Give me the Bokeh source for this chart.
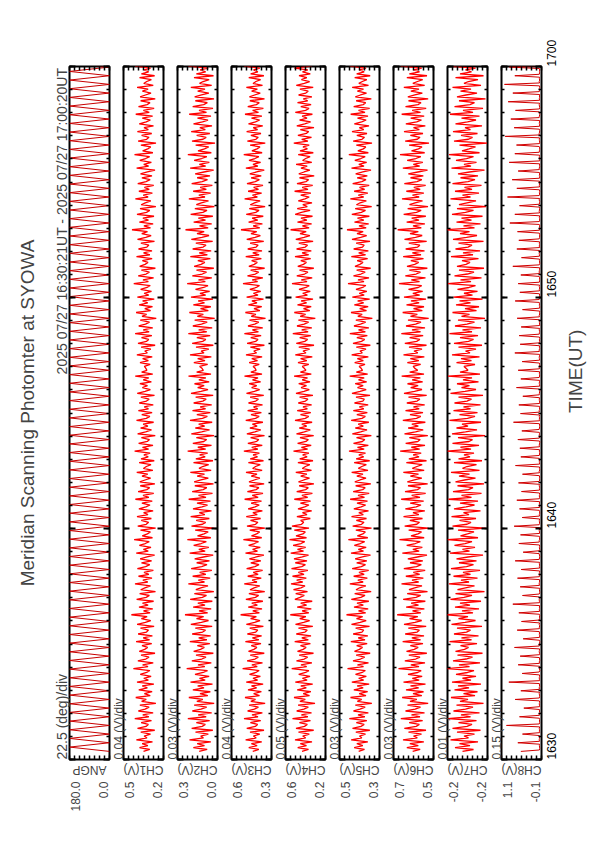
import math
import numpy as np
from bokeh.plotting import figure
from bokeh.models import Range1d, LinearAxis, FixedTicker, CustomJSTickFormatter, Title
from bokeh.layouts import row
from bokeh.embed import file_html
from bokeh.resources import INLINE

# ---------------- data ----------------
title_text = "Meridian Scanning Photomter at SYOWA"
date_text = "2025 07/27 16:30:21UT - 2025 07/27 17:00:20UT"
xlabel_text = "TIME(UT)"

panel_names = ["ANGP", "CH1(V)", "CH2(V)", "CH3(V)", "CH4(V)", "CH5(V)", "CH6(V)", "CH7(V)", "CH8(V)"]
div_labels = ["22.5 (deg)/div", "0.04 (V)/div", "0.03 (V)/div", "0.04 (V)/div", "0.05 (V)/div",
              "0.03 (V)/div", "0.03 (V)/div", "0.01 (V)/div", "0.15 (V)/div"]
axis_max = [180.0, 0.50, 0.26, 0.60, 0.60, 0.50, 0.72, -0.16, 1.10]
axis_per_div = [22.5, 0.04, 0.03, 0.04, 0.05, 0.03, 0.03, 0.01, 0.15]
max_labels = ["180.0", "0.5", "0.3", "0.6", "0.6", "0.5", "0.7", "-0.2", "1.1"]
min_labels = ["0.0", "0.2", "0.0", "0.3", "0.2", "0.3", "0.5", "-0.2", "-0.1"]

time_ticks = [30, 40, 50, 60]              # minutes after 16:00 UT
time_tick_labels = ["1630", "1640", "1650", "1700"]
time_minor_ticks = list(range(30, 61))
t_start = 30.35                            # 16:30:21 UT
ang_step = 0.1875                          # min between scan turning points
ch_step = 30.0 / 360                       # min between samples (CH1-CH7)
ch8_step = 30.0 / 480                      # min between samples (CH8)

# scan angle turning points (deg)
ang_v = [0, 180, 0, 180, 0, 180, 0, 180, 0, 180, 0, 180, 0, 180, 0, 180, 0, 180, 0, 180,
         0, 180, 0, 180, 0, 180, 0, 180, 0, 180, 0, 180, 0, 180, 0, 180, 0, 180, 0, 180,
         0, 180, 0, 180, 0, 180, 0, 180, 0, 180, 0, 180, 0, 180, 0, 180, 0, 180, 0, 180,
         0, 180, 0, 180, 0, 180, 0, 180, 0, 180, 0, 180, 0, 180, 0, 180, 0, 180, 0, 180,
         0, 180, 0, 180, 0, 180, 0, 180, 0, 180, 0, 180, 0, 180, 0, 180, 0, 180, 0, 180,
         0, 180, 0, 180, 0, 180, 0, 180, 0, 180, 0, 180, 0, 180, 0, 180, 0, 180, 0, 180,
         0, 180, 0, 180, 0, 180, 0, 180, 0, 180, 0, 180, 0, 180, 0, 180, 0, 180, 0, 180,
         0, 180, 0, 180, 0, 180, 0, 180, 0, 180, 0, 180, 0, 180, 0, 180, 0, 180, 0, 180, 0]

# channel values in mV
ch1_mv = [340, 290, 372, 305, 351, 268, 397, 312, 335, 284, 362, 250, 388, 320, 301, 359, 276, 410, 298, 346,
          263, 381, 327, 295, 369, 241, 355, 318, 402, 286, 333, 271, 378, 309, 350, 257, 392, 301, 338, 279,
          366, 315, 289, 421, 304, 347, 262, 385, 322, 296, 360, 248, 374, 331, 307, 352, 274, 399, 292, 343,
          269, 383, 316, 300, 364, 255, 391, 325, 282, 357, 311, 437, 287, 340, 266, 376, 303, 348, 259, 395,
          319, 293, 371, 244, 362, 329, 284, 408, 306, 345, 272, 380, 297, 336, 261, 389, 323, 290, 356, 275,
          367, 312, 251, 398, 302, 341, 280, 373, 326, 294, 415, 268, 350, 309, 285, 364, 243, 386, 318, 299,
          358, 277, 392, 304, 339, 263, 377, 321, 288, 353, 270, 405, 297, 344, 258, 383, 314, 291, 366, 249,
          370, 328, 283, 352, 306, 394, 265, 341, 317, 280, 375, 254, 360, 302, 337, 287, 411, 299, 348, 264,
          379, 310, 292, 357, 246, 387, 323, 276, 363, 305, 343, 259, 396, 318, 289, 354, 271, 381, 300, 334,
          262, 374, 316, 295, 361, 252, 390, 327, 285, 349, 308, 369, 277, 342, 298, 406, 266, 355, 313, 321,
          333, 286, 368, 301, 347, 270, 393, 309, 330, 281, 359, 247, 384, 317, 298, 356, 273, 407, 295, 342,
          266, 378, 324, 292, 366, 238, 352, 315, 399, 283, 330, 268, 375, 306, 347, 254, 389, 298, 335, 276,
          363, 312, 286, 418, 301, 344, 259, 382, 319, 293, 357, 245, 371, 328, 304, 349, 271, 396, 289, 340,
          272, 380, 313, 297, 361, 252, 388, 322, 279, 354, 308, 432, 284, 337, 263, 373, 300, 345, 256, 392,
          316, 290, 368, 241, 359, 326, 281, 405, 303, 342, 269, 377, 294, 333, 258, 386, 320, 287, 353, 272,
          364, 309, 248, 395, 299, 338, 277, 370, 323, 291, 412, 265, 347, 306, 282, 361, 240, 383, 315, 296,
          355, 274, 389, 301, 336, 260, 374, 318, 285, 350, 267, 402, 294, 341, 255, 380, 311, 288, 363, 246,
          367, 325, 280, 349, 303, 391, 262, 338, 314, 277, 372, 251, 357, 299, 334, 284, 408, 296, 345, 261]
ch2_mv = [130, 82, 165, 98, 142, 60, 188, 104, 121, 75, 152, 48, 175, 112, 93, 147, 67, 198, 88, 136,
          55, 171, 119, 85, 160, 40, 144, 108, 192, 78, 125, 63, 168, 101, 139, 50, 182, 94, 128, 70,
          155, 106, 80, 205, 96, 137, 57, 174, 114, 89, 149, 45, 163, 122, 99, 141, 66, 186, 84, 133,
          61, 172, 109, 92, 153, 52, 180, 117, 74, 146, 103, 215, 79, 131, 58, 166, 95, 138, 51, 184,
          111, 86, 159, 42, 150, 120, 77, 195, 98, 135, 64, 169, 90, 127, 54, 178, 115, 83, 145, 68,
          157, 104, 46, 187, 94, 132, 72, 163, 118, 87, 201, 60, 140, 101, 76, 154, 38, 176, 110, 91,
          148, 69, 181, 96, 129, 56, 167, 113, 80, 143, 62, 193, 89, 134, 50, 172, 106, 84, 156, 44,
          160, 119, 75, 142, 98, 183, 58, 131, 109, 73, 164, 47, 150, 94, 127, 79, 199, 91, 138, 56,
          168, 102, 85, 147, 41, 177, 115, 68, 153, 97, 133, 52, 185, 110, 81, 144, 63, 170, 92, 124,
          55, 163, 108, 88, 151, 46, 179, 119, 77, 139, 100, 158, 70, 132, 90, 194, 59, 145, 105, 113,
          127, 79, 162, 95, 139, 57, 185, 101, 118, 72, 149, 45, 172, 109, 90, 144, 64, 195, 85, 133,
          52, 168, 116, 82, 157, 37, 141, 105, 189, 75, 122, 60, 165, 98, 136, 47, 179, 91, 125, 67,
          152, 103, 77, 202, 93, 134, 54, 171, 111, 86, 146, 42, 160, 119, 96, 138, 63, 183, 81, 130,
          58, 169, 106, 89, 150, 49, 177, 114, 71, 143, 100, 212, 76, 128, 55, 163, 92, 135, 48, 181,
          108, 83, 156, 39, 147, 117, 74, 192, 95, 132, 61, 166, 87, 124, 51, 175, 112, 80, 142, 65,
          154, 101, 43, 184, 91, 129, 69, 160, 115, 84, 198, 57, 137, 98, 73, 151, 35, 173, 107, 88,
          145, 66, 178, 93, 126, 53, 164, 110, 77, 140, 59, 190, 86, 131, 47, 169, 103, 81, 153, 41,
          157, 116, 72, 139, 95, 180, 55, 128, 106, 70, 161, 44, 147, 91, 124, 76, 196, 88, 135, 53]
ch3_mv = [430, 381, 462, 395, 441, 358, 487, 402, 425, 374, 452, 340, 478, 410, 391, 449, 366, 500, 388, 436,
          353, 471, 417, 385, 459, 331, 445, 408, 492, 376, 423, 361, 468, 399, 440, 347, 482, 391, 428, 369,
          456, 405, 379, 511, 394, 437, 352, 475, 412, 386, 450, 338, 464, 421, 397, 442, 364, 489, 382, 433,
          359, 473, 406, 390, 454, 345, 481, 415, 372, 447, 401, 527, 377, 430, 356, 466, 393, 438, 349, 485,
          409, 383, 461, 334, 452, 419, 374, 498, 396, 435, 362, 470, 387, 426, 351, 479, 413, 380, 446, 365,
          457, 402, 341, 488, 392, 431, 370, 463, 416, 384, 505, 358, 440, 399, 375, 454, 333, 476, 408, 389,
          448, 367, 482, 394, 429, 353, 467, 411, 378, 443, 360, 495, 387, 434, 348, 473, 404, 381, 456, 339,
          460, 418, 373, 442, 396, 484, 355, 431, 407, 370, 465, 344, 450, 392, 427, 377, 501, 389, 438, 354,
          469, 400, 382, 447, 336, 477, 413, 366, 453, 395, 433, 349, 486, 408, 379, 444, 361, 471, 390, 424,
          352, 464, 406, 385, 451, 342, 480, 417, 375, 439, 398, 459, 367, 432, 388, 496, 356, 445, 403, 411,
          427, 378, 459, 392, 438, 355, 484, 399, 422, 371, 449, 337, 475, 407, 388, 446, 363, 497, 385, 433,
          350, 468, 414, 382, 456, 328, 442, 405, 489, 373, 420, 358, 465, 396, 437, 344, 479, 388, 425, 366,
          453, 402, 376, 508, 391, 434, 349, 472, 409, 383, 447, 335, 461, 418, 394, 439, 361, 486, 379, 430,
          356, 470, 403, 387, 451, 342, 478, 412, 369, 444, 398, 524, 374, 427, 353, 463, 390, 435, 346, 482,
          406, 380, 458, 331, 449, 416, 371, 495, 393, 432, 359, 467, 384, 423, 348, 476, 410, 377, 443, 362,
          454, 399, 338, 485, 389, 428, 367, 460, 413, 381, 502, 355, 437, 396, 372, 451, 330, 473, 405, 386,
          445, 364, 479, 391, 426, 350, 464, 408, 375, 440, 357, 492, 384, 431, 345, 470, 401, 378, 453, 336,
          457, 415, 370, 439, 393, 481, 352, 428, 404, 367, 462, 341, 447, 389, 424, 374, 498, 386, 435, 351]
ch4_mv = [435, 370, 478, 390, 452, 335, 505, 398, 428, 362, 470, 318, 495, 410, 382, 461, 350, 530, 377, 441,
          340, 488, 416, 372, 474, 305, 456, 402, 515, 360, 423, 346, 483, 392, 447, 328, 502, 384, 431, 355,
          468, 399, 366, 538, 388, 445, 336, 490, 412, 379, 463, 320, 480, 424, 394, 450, 351, 508, 372, 437,
          345, 492, 405, 383, 470, 327, 500, 418, 359, 458, 396, 552, 367, 434, 342, 483, 389, 448, 333, 506,
          455, 412, 498, 380, 520, 446, 405, 545, 428, 488, 392, 530, 415, 472, 376, 540, 438, 401, 502, 385,
          515, 432, 370, 548, 420, 480, 398, 524, 445, 408, 560, 390, 495, 426, 402, 512, 365, 535, 440, 418,
          448, 352, 486, 385, 430, 338, 475, 408, 366, 451, 349, 512, 378, 436, 331, 488, 399, 372, 463, 316,
          470, 417, 360, 448, 386, 497, 340, 432, 401, 357, 476, 325, 458, 384, 428, 366, 520, 379, 441, 343,
          479, 395, 371, 455, 318, 490, 411, 352, 462, 388, 437, 334, 505, 402, 368, 450, 347, 483, 381, 425,
          339, 472, 400, 376, 459, 326, 495, 415, 362, 444, 390, 468, 355, 433, 380, 514, 342, 451, 396, 412,
          432, 367, 475, 387, 449, 332, 502, 395, 425, 359, 467, 315, 492, 407, 379, 458, 347, 527, 374, 438,
          337, 485, 413, 369, 471, 302, 453, 399, 512, 357, 420, 343, 480, 389, 444, 325, 499, 381, 428, 352,
          465, 396, 363, 535, 385, 442, 333, 487, 409, 376, 460, 317, 477, 421, 391, 447, 348, 505, 369, 434,
          342, 489, 402, 380, 467, 324, 497, 415, 356, 455, 393, 549, 364, 431, 339, 480, 386, 445, 330, 503,
          441, 354, 483, 382, 427, 335, 472, 405, 363, 448, 346, 509, 375, 433, 328, 485, 396, 369, 460, 313,
          467, 414, 357, 445, 383, 494, 337, 429, 398, 354, 473, 322, 455, 381, 425, 363, 517, 376, 438, 340,
          476, 392, 368, 452, 315, 487, 408, 349, 459, 385, 434, 331, 502, 399, 365, 447, 344, 480, 378, 422,
          336, 469, 397, 373, 456, 323, 492, 412, 359, 441, 387, 465, 352, 430, 377, 511, 339, 448, 393, 409]
ch5_mv = [385, 350, 412, 360, 396, 330, 430, 366, 380, 344, 402, 318, 422, 371, 352, 399, 336, 441, 348, 389,
          327, 416, 377, 346, 405, 306, 393, 367, 434, 341, 382, 331, 414, 358, 394, 322, 426, 355, 385, 339,
          404, 364, 345, 452, 356, 392, 326, 419, 374, 349, 400, 316, 410, 381, 362, 397, 334, 432, 347, 388,
          330, 418, 365, 355, 403, 320, 428, 376, 340, 398, 361, 458, 343, 386, 328, 413, 357, 395, 324, 429,
          372, 347, 409, 310, 401, 379, 342, 438, 358, 390, 333, 415, 352, 383, 325, 424, 369, 344, 397, 336,
          406, 363, 314, 431, 356, 387, 340, 411, 375, 349, 447, 330, 393, 360, 345, 402, 308, 421, 368, 353,
          399, 338, 428, 357, 384, 326, 414, 370, 343, 395, 332, 436, 350, 389, 322, 418, 361, 346, 403, 312,
          408, 377, 341, 396, 359, 427, 329, 387, 366, 339, 412, 319, 400, 355, 384, 344, 443, 352, 392, 327,
          416, 363, 348, 398, 309, 423, 373, 335, 405, 357, 388, 324, 430, 365, 345, 396, 333, 417, 354, 381,
          328, 410, 360, 351, 401, 317, 425, 376, 340, 392, 358, 406, 337, 386, 352, 439, 331, 399, 362, 370,
          382, 347, 409, 357, 393, 327, 427, 363, 377, 341, 399, 315, 419, 368, 349, 396, 333, 438, 345, 386,
          324, 413, 374, 343, 402, 303, 390, 364, 431, 338, 379, 328, 411, 355, 391, 319, 423, 352, 382, 336,
          401, 361, 342, 449, 353, 389, 323, 416, 371, 346, 397, 313, 407, 378, 359, 394, 331, 429, 344, 385,
          327, 415, 362, 352, 400, 317, 425, 373, 337, 395, 358, 455, 340, 383, 325, 410, 354, 392, 321, 426,
          369, 344, 406, 307, 398, 376, 339, 435, 355, 387, 330, 412, 349, 380, 322, 421, 366, 341, 394, 333,
          403, 360, 311, 428, 353, 384, 337, 408, 372, 346, 444, 327, 390, 357, 342, 399, 305, 418, 365, 350,
          396, 335, 425, 354, 381, 323, 411, 367, 340, 392, 329, 433, 347, 386, 319, 415, 358, 343, 400, 309,
          405, 374, 338, 393, 356, 424, 326, 384, 363, 336, 409, 316, 397, 352, 381, 341, 440, 349, 389, 324]
ch6_mv = [605, 560, 640, 571, 622, 538, 663, 577, 600, 552, 630, 525, 655, 584, 565, 626, 545, 676, 561, 612,
          534, 648, 590, 558, 636, 512, 621, 580, 668, 550, 603, 540, 645, 569, 618, 528, 660, 566, 607, 548,
          633, 575, 554, 690, 567, 616, 531, 652, 587, 561, 628, 520, 642, 596, 572, 619, 543, 665, 558, 610,
          537, 650, 578, 565, 631, 524, 657, 591, 551, 624, 574, 698, 556, 606, 535, 644, 570, 614, 529, 662,
          585, 557, 638, 516, 627, 593, 549, 672, 569, 609, 541, 646, 563, 601, 530, 658, 582, 553, 621, 544,
          634, 577, 519, 667, 566, 604, 547, 641, 589, 559, 684, 536, 615, 573, 552, 629, 510, 653, 580, 564,
          622, 546, 660, 568, 603, 532, 649, 584, 555, 620, 539, 674, 561, 611, 527, 651, 576, 558, 633, 515,
          637, 595, 550, 619, 570, 661, 536, 607, 579, 548, 643, 522, 628, 567, 602, 554, 680, 563, 613, 531,
          647, 574, 560, 625, 514, 654, 588, 542, 632, 571, 610, 529, 664, 582, 556, 621, 543, 648, 566, 600,
          533, 640, 578, 562, 630, 521, 657, 594, 549, 617, 572, 636, 545, 608, 559, 671, 537, 623, 575, 592,
          602, 557, 637, 568, 619, 535, 660, 574, 597, 549, 627, 522, 652, 581, 562, 623, 542, 673, 558, 609,
          531, 645, 587, 555, 633, 509, 618, 577, 665, 547, 600, 537, 642, 566, 615, 525, 657, 563, 604, 545,
          630, 572, 551, 687, 564, 613, 528, 649, 584, 558, 625, 517, 639, 593, 569, 616, 540, 662, 555, 607,
          534, 647, 575, 562, 628, 521, 654, 588, 548, 621, 571, 695, 553, 603, 532, 641, 567, 611, 526, 659,
          582, 554, 635, 513, 624, 590, 546, 669, 566, 606, 538, 643, 560, 598, 527, 655, 579, 550, 618, 541,
          631, 574, 516, 664, 563, 601, 544, 638, 586, 556, 681, 533, 612, 570, 549, 626, 507, 650, 577, 561,
          619, 543, 657, 565, 600, 529, 646, 581, 552, 617, 536, 671, 558, 608, 524, 648, 573, 555, 630, 512,
          634, 592, 547, 616, 567, 658, 533, 604, 576, 545, 640, 519, 625, 564, 599, 551, 677, 560, 610, 528]
ch7_mv = [-190, -212, -175, -205, -184, -221, -166, -202, -193, -214, -179, -226, -170, -199, -209, -182, -218, -161, -206, -187,
          -224, -172, -196, -211, -178, -232, -185, -201, -167, -215, -192, -220, -174, -203, -181, -227, -169, -207, -190, -217,
          -177, -200, -213, -158, -204, -183, -225, -171, -197, -210, -180, -230, -176, -194, -202, -186, -219, -164, -208, -188,
          -222, -173, -198, -206, -179, -229, -168, -195, -216, -182, -201, -155, -211, -189, -223, -175, -205, -185, -227, -166,
          -193, -209, -176, -234, -180, -196, -214, -163, -203, -187, -220, -172, -206, -191, -225, -167, -198, -212, -183, -218,
          -178, -201, -231, -165, -204, -190, -215, -174, -195, -209, -160, -221, -186, -200, -213, -181, -236, -170, -199, -207,
          -184, -217, -168, -203, -192, -226, -173, -197, -214, -185, -221, -162, -208, -188, -228, -171, -202, -211, -180, -233,
          -176, -194, -216, -183, -204, -167, -224, -190, -199, -218, -173, -229, -182, -205, -193, -213, -157, -207, -186, -223,
          -170, -203, -210, -181, -235, -169, -196, -219, -178, -201, -189, -227, -164, -200, -215, -184, -220, -172, -206, -192,
          -226, -174, -199, -208, -182, -231, -166, -195, -217, -188, -204, -179, -222, -191, -209, -161, -225, -185, -201, -197,
          -193, -215, -178, -208, -187, -224, -169, -205, -196, -217, -182, -229, -173, -202, -212, -185, -221, -164, -209, -190,
          -227, -175, -199, -214, -181, -235, -188, -204, -170, -218, -195, -223, -177, -206, -184, -230, -172, -210, -193, -220,
          -180, -203, -216, -161, -207, -186, -228, -174, -200, -213, -183, -233, -179, -197, -205, -189, -222, -167, -211, -191,
          -225, -176, -201, -209, -182, -232, -171, -198, -219, -185, -204, -158, -214, -192, -226, -178, -208, -188, -230, -169,
          -196, -212, -179, -237, -183, -199, -217, -166, -206, -190, -223, -175, -209, -194, -228, -170, -201, -215, -186, -221,
          -181, -204, -234, -168, -207, -193, -218, -177, -198, -212, -163, -224, -189, -203, -216, -184, -239, -173, -202, -210,
          -187, -220, -171, -206, -195, -229, -176, -200, -217, -188, -224, -165, -211, -191, -231, -174, -205, -214, -183, -236,
          -179, -197, -219, -186, -207, -170, -227, -193, -202, -221, -176, -232, -185, -208, -196, -216, -160, -210, -189, -226]
ch8_mv = [520, -38, -45, -41, -36, -43, 610, -42, -31, -39, -44, -37, 470, -47, -36, -40, -33, -45, 950, -33, -44, -38, -42, -35, 560, -40, -29, -46, -37, -41,
          430, -46, -39, -34, -44, -38, 690, -35, -43, -40, -31, -47, 520, -41, -30, -45, -39, -36, 880, -44, -37, -33, -42, -40, 480, -32, -48, -38, -35, -43,
          600, -39, -34, -46, -41, -37, 540, -45, -41, -32, -38, -44, 710, -36, -30, -43, -47, -39, 450, -43, -47, -35, -40, -33, 630, -38, -35, -44, -31, -42,
          500, -31, -42, -39, -46, -36, 580, -46, -33, -41, -37, -45, 760, -40, -38, -30, -44, -35, 470, -34, -45, -42, -38, -47, 540, -42, -29, -37, -43, -40,
          620, -37, -44, -33, -39, -46, 510, -48, -36, -41, -35, -42, 690, -33, -40, -45, -38, -31, 450, -41, -46, -36, -43, -39, 580, -35, -31, -44, -40, -37,
          530, -44, -39, -32, -47, -41, 720, -30, -43, -38, -35, -45, 480, -39, -35, -46, -42, -33, 560, -46, -32, -40, -37, -44, 640, -36, -41, -34, -45, -38,
          500, -43, -37, -42, -31, -46, 590, -32, -45, -39, -44, -36, 470, -40, -30, -47, -38, -42, 680, -45, -38, -35, -41, -33, 520, -34, -42, -44, -36, -40,
          550, -41, -33, -38, -46, -43, 610, -37, -47, -31, -40, -35, 490, -29, -39, -44, -42, -37, 740, -44, -35, -40, -33, -46, 530, -38, -31, -45, -39, -42,
          580, -42, -46, -36, -34, -41, 460, -35, -36, -43, -47, -38, 650, -47, -40, -33, -39, -44, 520, -31, -43, -41, -36, -45, 600, -39, -34, -46, -42, -37,
          480, -45, -38, -32, -40, -43, 700, -36, -29, -44, -37, -41, 540, -40, -44, -35, -46, -38, 570, -33, -37, -42, -31, -45, 510, -46, -41, -38, -43, -36,
          630, -38, -32, -45, -40, -47, 470, -43, -45, -36, -39, -34, 690, -30, -39, -41, -44, -37, 550, -41, -35, -47, -33, -42, 600, -37, -42, -39, -45, -31,
          520, -44, -30, -36, -41, -46, 760, -34, -46, -43, -38, -40, 500, -39, -38, -32, -45, -44, 640, -47, -33, -40, -36, -42, 580, -32, -40, -45, -43, -35,
          620, -42, -36, -39, -47, -33, 850, -36, -44, -41, -35, -46, 700, -45, -31, -38, -42, -40, 560, -38, -39, -44, -30, -43, 920, -31, -43, -37, -46, -39,
          640, -43, -35, -40, -33, -45, 780, -40, -47, -36, -42, -38, 600, -35, -32, -45, -39, -44, 870, -46, -41, -34, -37, -42, 700, -33, -37, -43, -46, -31,
          650, -41, -45, -38, -35, -40, 990, -37, -30, -42, -44, -36, 720, -44, -42, -35, -39, -47, 820, -30, -36, -46, -41, -33, 680, -39, -46, -37, -32, -43,
          900, -45, -34, -41, -38, -44, 760, -36, -40, -33, -47, -39, 1010, -42, -31, -44, -36, -40, 700, -34, -43, -39, -45, -37, 860, -40, -38, -35, -42, -46]

# ---------------- build ----------------
FONT = "Liberation Sans"
FRAME_W, FRAME_H = 40, 693
NAME_PX = 12
# approximate advance widths (em) of Liberation Sans, used to centre the upside-down names
CHAR_EM = {"A": 0.667, "N": 0.722, "G": 0.778, "P": 0.667, "C": 0.722, "H": 0.722,
           "V": 0.667, "(": 0.333, ")": 0.333}


def text_px(s, size):
    return sum(CHAR_EM.get(c, 0.556) for c in s) * size


series = [(t_start + ang_step * np.arange(len(ang_v)), np.array(ang_v, dtype=float))]
for arr in [ch1_mv, ch2_mv, ch3_mv, ch4_mv, ch5_mv, ch6_mv, ch7_mv]:
    series.append((t_start + ch_step * np.arange(len(arr)), np.array(arr) / 1000.0))
series.append((t_start + ch8_step * np.arange(len(ch8_mv)), np.array(ch8_mv) / 1000.0))

line_colors = ["#c80000"] + ["#ff0000"] * 7 + ["#d00000"]
line_widths = [1.0] + [1.3] * 7 + [1.0]

fmt_code = """
if (index == 0) { return lo; }
if (index == ticks.length - 1) { return hi; }
return "";
"""


def set_label_orientation(ax, angle):
    try:
        ax.axis_label_orientation = angle
    except Exception:
        pass


def time_axis(show_labels):
    ax = LinearAxis(ticker=FixedTicker(ticks=time_ticks, minor_ticks=time_minor_ticks),
                    axis_line_color=None,
                    major_tick_in=6, major_tick_out=0, minor_tick_in=3, minor_tick_out=0,
                    major_tick_line_width=2, minor_tick_line_width=1.5,
                    major_tick_line_color="black", minor_tick_line_color="black",
                    major_label_standoff=0)
    if show_labels:
        ax.major_label_overrides = {t: s for t, s in zip(time_ticks, time_tick_labels)}
        ax.major_label_orientation = math.pi / 2
        ax.major_label_text_font_size = "12px"
        ax.major_label_text_font = FONT
        ax.major_label_text_color = "black"
        ax.major_label_standoff = 10
        ax.axis_label = xlabel_text
        ax.axis_label_text_font = FONT
        ax.axis_label_text_font_size = "19px"
        ax.axis_label_text_font_style = "normal"
        ax.axis_label_standoff = 12
        set_label_orientation(ax, math.pi / 2)
    else:
        ax.major_label_text_font_size = "0px"
    return ax


figs = []
for i in range(9):
    vmax = axis_max[i]
    per = axis_per_div[i]
    vmin = vmax - 8 * per
    dpp = (vmax - vmin) / FRAME_W          # data units per pixel
    left_b = 60 if i == 0 else 12
    right_b = 45 if i == 8 else 2
    p = figure(frame_width=FRAME_W, frame_height=FRAME_H,
               min_border_left=left_b, min_border_right=right_b,
               min_border_top=66, min_border_bottom=58,
               x_range=Range1d(vmax, vmin), y_range=Range1d(time_ticks[0], time_ticks[-1]),
               x_axis_location=None, y_axis_location=None,
               output_backend="svg", toolbar_location=None, title=None,
               background_fill_color="white", border_fill_color="white",
               outline_line_color="black", outline_line_width=2)
    p.grid.grid_line_color = None

    vt = [vmin + k * per for k in range(9)]
    above = LinearAxis(ticker=FixedTicker(ticks=vt), axis_line_color=None,
                       major_tick_in=4, major_tick_out=0, major_tick_line_width=1.5,
                       major_label_text_font_size="0px", major_label_standoff=0)
    below_ticks = LinearAxis(ticker=FixedTicker(ticks=vt), axis_line_color=None,
                             major_tick_in=4, major_tick_out=0, major_tick_line_width=1.5,
                             major_label_text_font_size="0px", major_label_standoff=0)
    # channel name, upside down (as on the rotated page): a single tick label whose
    # anchor sits half a text width left of the panel centre, so the flipped text is centred
    mid = (vmax + vmin) / 2
    anchor = mid + 0.5 * text_px(panel_names[i], NAME_PX) * dpp
    below_name = LinearAxis(ticker=FixedTicker(ticks=[anchor]), axis_line_color=None,
                            major_tick_in=0, major_tick_out=0,
                            formatter=CustomJSTickFormatter(args=dict(s=panel_names[i]), code="return s;"),
                            major_label_orientation=math.pi, major_label_standoff=10,
                            major_label_text_font=FONT, major_label_text_font_size="%dpx" % NAME_PX)
    # value labels near both ends of the panel
    lab_ticks = [vmin + 1.2 * per, vmax - 1.2 * per]
    below_vals = LinearAxis(ticker=FixedTicker(ticks=lab_ticks), axis_line_color=None,
                            major_tick_in=0, major_tick_out=0,
                            formatter=CustomJSTickFormatter(args=dict(lo=min_labels[i], hi=max_labels[i]), code=fmt_code),
                            major_label_orientation=math.pi / 2, major_label_text_font_size="12px",
                            major_label_text_font=FONT, major_label_standoff=-5)
    p.add_layout(above, "above")
    p.add_layout(below_ticks, "below")
    p.add_layout(below_name, "below")
    p.add_layout(below_vals, "below")
    p.add_layout(time_axis(False), "left")
    p.add_layout(time_axis(i == 8), "right")

    t, v = series[i]
    p.line(x=v, y=t, line_color=line_colors[i], line_width=line_widths[i])

    if i == 0:
        # scale text (bottom) and date (top) share one line above the top panel
        gap = "\u00a0" * 77
        p.add_layout(Title(text=div_labels[i] + gap + date_text, align="left", standoff=0,
                           text_font=FONT, text_font_size="14px", text_font_style="normal"), "left")
        p.add_layout(Title(text=title_text, align="center", standoff=28,
                           text_font=FONT, text_font_size="19px", text_font_style="normal"), "left")
    else:
        p.add_layout(Title(text=div_labels[i], align="left", standoff=-4,
                           text_font=FONT, text_font_size="12px", text_font_style="normal"), "left")
    figs.append(p)

layout = row(*figs)
open("out.html", "w").write(file_html(layout, INLINE))
